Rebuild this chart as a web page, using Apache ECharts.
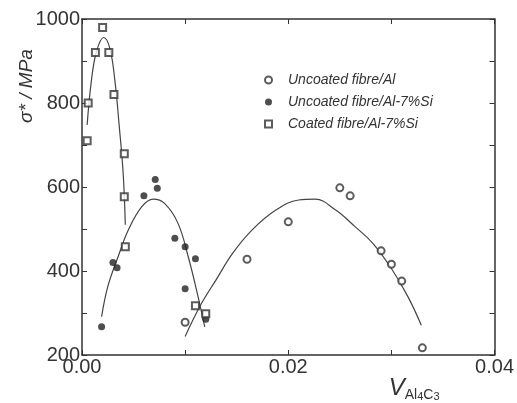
<!DOCTYPE html>
<html>
<head>
<meta charset="utf-8">
<script src="https://cdn.jsdelivr.net/npm/echarts@6/dist/echarts.min.js"></script>
<style>
  html, body { margin: 0; padding: 0; background: #fff; }
  #chart { width: 517px; height: 403px; }
</style>
</head>
<body>
<div id="chart"></div>
<script>
const uncoatedAl = [
  [0.0100, 278], [0.0160, 428], [0.0200, 517], [0.0250, 598], [0.0260, 579],
  [0.0290, 448], [0.0300, 416], [0.0310, 376], [0.0330, 217]
];
const uncoatedAlSi = [
  [0.0019, 267], [0.0030, 420], [0.0034, 408], [0.0060, 579], [0.0071, 618],
  [0.0073, 597], [0.0090, 478], [0.0100, 458], [0.0110, 429], [0.0100, 358],
  [0.0120, 285]
];
const coatedAlSi = [
  [0.0005, 710], [0.0006, 800], [0.0013, 920], [0.0020, 980], [0.0026, 920],
  [0.0031, 820], [0.0041, 679], [0.0041, 577], [0.0042, 458], [0.0110, 317],
  [0.0120, 298]
];

// fitted curves
const fitCoated = [
  [0.0005, 748], [0.0009, 851], [0.0014, 922], [0.0021, 956], [0.0027, 930],
  [0.0032, 851], [0.0036, 748], [0.0040, 629], [0.0042, 510]
];
const fitAlSi = [
  [0.0019, 291], [0.0025, 363], [0.0035, 434], [0.0045, 498], [0.0058, 553],
  [0.0069, 571], [0.0080, 561], [0.0093, 514], [0.0103, 434], [0.0111, 355],
  [0.0119, 267]
];
const fitAl = [
  [0.0100, 244], [0.0115, 319], [0.0130, 379], [0.0146, 442], [0.0165, 498],
  [0.0188, 545], [0.0210, 569], [0.0226, 571], [0.0246, 545], [0.0265, 505],
  [0.0282, 466], [0.0300, 406], [0.0316, 339], [0.0329, 271]
];

const seriesNames = ['Uncoated fibre/Al', 'Uncoated fibre/Al-7%Si', 'Coated fibre/Al-7%Si'];
const ink = '#333';
const font = '"Liberation Sans", Arial, sans-serif';

const chart = echarts.init(document.getElementById('chart'));

function frameAxis(pos, isX) {
  const base = {
    position: pos,
    axisLine: { show: true, onZero: false, lineStyle: { color: ink, width: 1.5 } },
    axisTick: { show: true, inside: true, length: 5, lineStyle: { color: ink } },
    minorTick: { show: true, splitNumber: 2, length: 5, lineStyle: { color: ink } },
    axisLabel: { show: false },
    splitLine: { show: false }
  };
  return isX
    ? Object.assign(base, { type: 'value', min: 0, max: 0.04, interval: 0.02 })
    : Object.assign(base, { type: 'value', min: 200, max: 1000, interval: 200 });
}

function lineSeries(data) {
  return {
    type: 'line',
    data,
    smooth: 0.4,
    showSymbol: false,
    silent: true,
    lineStyle: { color: '#444', width: 1.2 },
    z: 1
  };
}

const xMain = frameAxis('bottom', true);
xMain.axisLabel = {
  show: true, color: ink, fontSize: 20, fontFamily: font, margin: 2,
  formatter: (v) => v.toFixed(2)
};
xMain.name = '{v|V}{s|Al}{t|4}{s|C}{t|3}';
xMain.nameLocation = 'end';
xMain.nameGap = 0;
xMain.nameTextStyle = {
  align: 'right', verticalAlign: 'top', padding: [20, 55, 0, 0],
  rich: {
    v: { fontSize: 24, fontStyle: 'italic', color: ink, fontFamily: font },
    s: { fontSize: 14, color: ink, fontFamily: font, verticalAlign: 'bottom', padding: [12, 0, 0, 0] },
    t: { fontSize: 11, color: ink, fontFamily: font, verticalAlign: 'bottom', padding: [16, 0, 0, 0] }
  }
};

const yMain = frameAxis('left', false);
yMain.axisLabel = {
  show: true, color: ink, fontSize: 20, fontFamily: font, margin: 2,
  formatter: (v) => String(v)
};

const option = {
  backgroundColor: '#fff',
  animation: false,
  grid: { left: 82, top: 19, right: 20, bottom: 48 },
  legend: {
    data: seriesNames,
    orient: 'vertical',
    left: 259,
    top: 68,
    itemGap: 8,
    itemWidth: 7,
    itemHeight: 7,
    textStyle: { color: ink, fontSize: 14, fontStyle: 'italic', fontFamily: font, padding: [0, 0, 0, 11] }
  },
  graphic: [
    {
      type: 'text',
      x: 27,
      y: 86,
      rotation: Math.PI / 2,
      style: {
        text: 'σ* / MPa',
        fill: ink,
        font: 'italic 19px ' + font,
        align: 'center',
        verticalAlign: 'middle'
      }
    }
  ],
  xAxis: [xMain, frameAxis('top', true)],
  yAxis: [yMain, frameAxis('right', false)],
  series: [
    {
      name: seriesNames[0], type: 'scatter', data: uncoatedAl,
      symbol: 'emptyCircle', symbolSize: 7,
      itemStyle: { color: ink, borderWidth: 1.2 }, z: 3
    },
    {
      name: seriesNames[1], type: 'scatter', data: uncoatedAlSi,
      symbol: 'circle', symbolSize: 7,
      itemStyle: { color: '#222' }, z: 3
    },
    {
      name: seriesNames[2], type: 'scatter', data: coatedAlSi,
      symbol: 'emptyRect', symbolSize: 7,
      itemStyle: { color: ink, borderWidth: 1.2 }, z: 3
    },
    lineSeries(fitCoated),
    lineSeries(fitAlSi),
    lineSeries(fitAl)
  ]
};

chart.setOption(option);
window.addEventListener('resize', () => chart.resize());
</script>
</body>
</html>
